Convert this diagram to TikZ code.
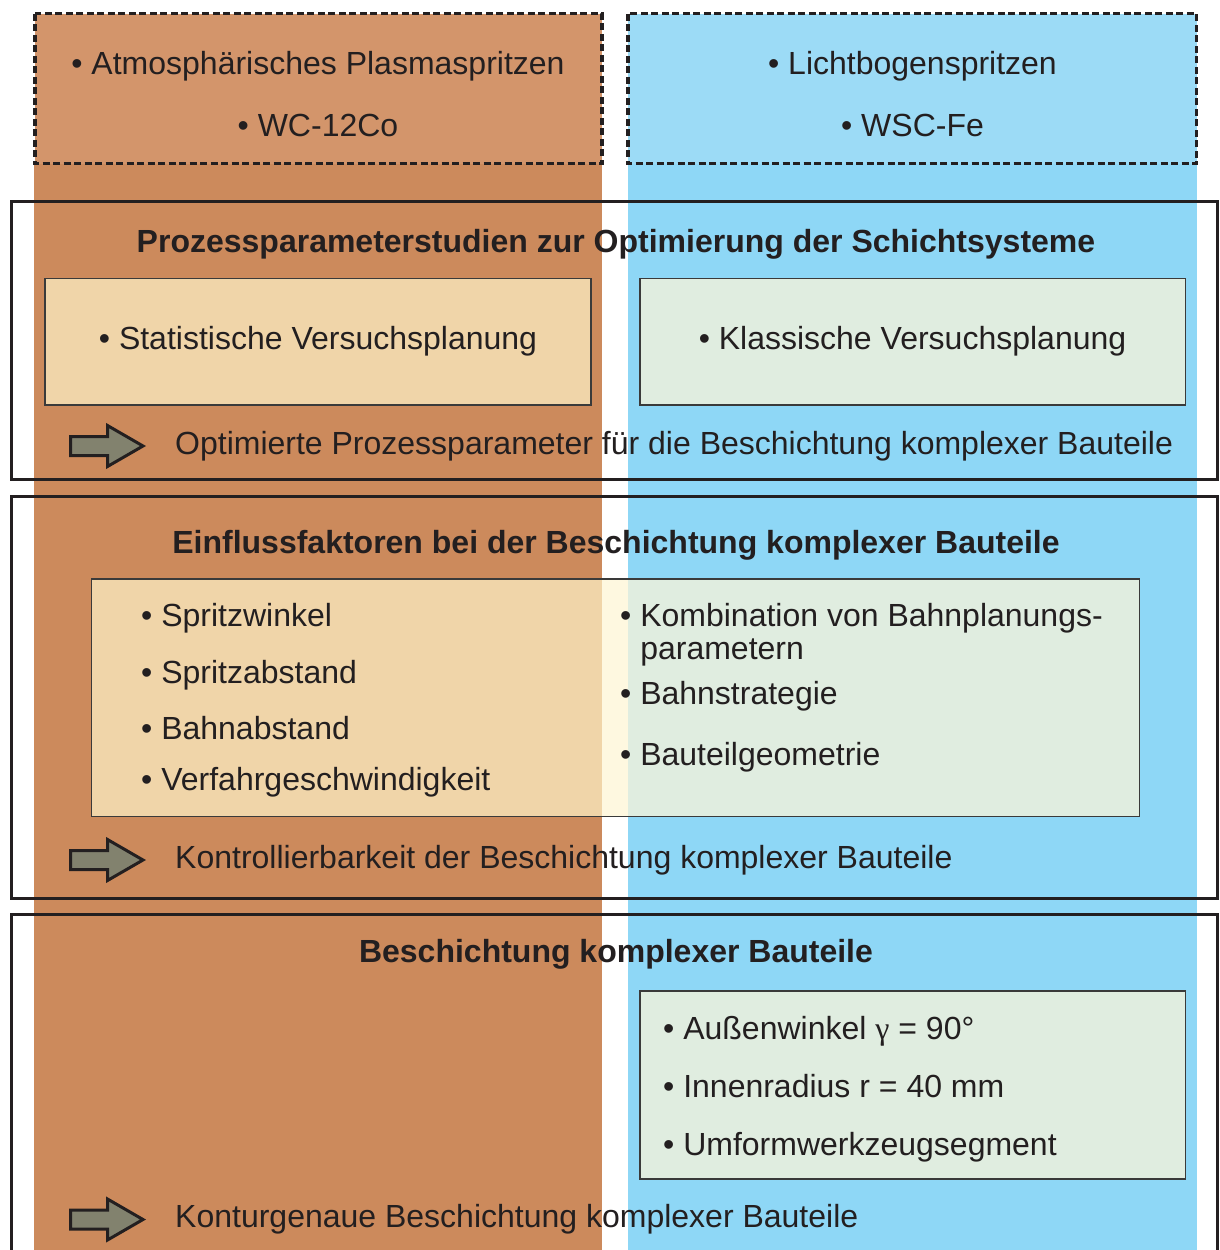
\documentclass[tikz,border=0pt]{standalone}
\usepackage{fontspec}
\setmainfont{Liberation Sans}
\newfontfamily\greekserif{Liberation Serif}
\definecolor{ink}{HTML}{231F20}
\definecolor{boxline}{HTML}{3A3A3A}
\definecolor{orangeTop}{HTML}{D3956B}
\definecolor{orangeCol}{HTML}{CC8A5C}
\definecolor{blueTop}{HTML}{9CDBF6}
\definecolor{blueCol}{HTML}{8ED7F6}
\definecolor{wheat}{HTML}{F0D5A9}
\definecolor{mint}{HTML}{E0EDE0}
\definecolor{cream}{HTML}{FEF8E0}
\definecolor{arrowfill}{HTML}{82826E}
\begin{document}
\begin{tikzpicture}[x=1pt,y=-1pt,
  txt/.style={inner sep=0pt, font=\fontsize{32}{33}\selectfont, text=ink},
  ttl/.style={inner sep=0pt, font=\fontsize{32}{33}\selectfont\bfseries, text=ink},
  dashbox/.style={draw=ink, line width=3.2pt, dash pattern=on 7pt off 3.5pt},
  framebox/.style={draw=ink, line width=3pt},
  inbox/.style={draw=boxline, line width=1.3pt},
  blockarrow/.style={draw=ink, line width=3pt, fill=arrowfill, line join=miter},
  barrow/.pic={\draw[blockarrow] (-37,-9.5) -- (0,-9.5) -- (0,-20.5) -- (35.5,0) -- (0,20.5) -- (0,9.5) -- (-37,9.5) -- cycle;}]
\useasboundingbox (0,0) rectangle (1219,1250);
\fill[white] (0,0) rectangle (1219,1250);
% columns
\fill[orangeCol] (34,163) rectangle (602,1250);
\fill[blueCol] (628,163) rectangle (1197,1250);
% top dashed boxes
\path[dashbox, fill=orangeTop] (35,13.5) rectangle (602,163.5);
\path[dashbox, fill=blueTop] (628,13.5) rectangle (1196.5,163.5);
\node[txt, anchor=base] (aps) at (318,74) {• Atmosphärisches Plasmaspritzen};
\node[txt, anchor=base] (wc) at (318,136) {• WC-12Co};
\node[txt, anchor=base] (lbs) at (912.5,74) {• Lichtbogenspritzen};
\node[txt, anchor=base] (wsc) at (912.5,136) {• WSC-Fe};
% frames
\draw[framebox] (11,201) rectangle (1217.5,479);
\draw[framebox] (11,496.5) rectangle (1217.5,898);
\draw[framebox] (11,1256) -- (11,914.5) -- (1217.5,914.5) -- (1217.5,1256);
% section 1
\node[ttl, anchor=base] (t1) at (616,252) {Prozessparameterstudien zur Optimierung der Schichtsysteme};
\path[inbox, fill=wheat] (45,278.5) rectangle (591,405);
\path[inbox, fill=mint] (640,278.5) rectangle (1185.5,405);
\node[txt, anchor=base] (svp) at (318,349) {• Statistische Versuchsplanung};
\node[txt, anchor=base] (kvp) at (912.5,349) {• Klassische Versuchsplanung};
\pic at (107.5,446) {barrow};
\node[txt, anchor=base west] (r1) at (175,454) {Optimierte Prozessparameter für die Beschichtung komplexer Bauteile};
% section 2
\node[ttl, anchor=base] (t2) at (616,553) {Einflussfaktoren bei der Beschichtung komplexer Bauteile};
\fill[wheat] (91.5,579) rectangle (602,816.5);
\fill[cream] (602,579) rectangle (628,816.5);
\fill[mint] (628,579) rectangle (1139.5,816.5);
\draw[inbox] (91.5,579) rectangle (1139.5,816.5);
\node[txt, anchor=base west] (sw) at (141,626) {• Spritzwinkel};
\node[txt, anchor=base west] (sa) at (141,683) {• Spritzabstand};
\node[txt, anchor=base west] (ba) at (141,739) {• Bahnabstand};
\node[txt, anchor=base west] (vg) at (141,790) {• Verfahrgeschwindigkeit};
\node[txt, anchor=base west, align=left] (kb) at (620,659) {• Kombination von Bahnplanungs-\\\phantom{• }parametern};
\node[txt, anchor=base west] (bs) at (620,704) {• Bahnstrategie};
\node[txt, anchor=base west] (bg) at (620,765) {• Bauteilgeometrie};
\pic at (107.5,860) {barrow};
\node[txt, anchor=base west] (r2) at (175,868) {Kontrollierbarkeit der Beschichtung komplexer Bauteile};
% section 3
\node[ttl, anchor=base] (t3) at (616,962) {Beschichtung komplexer Bauteile};
\path[inbox, fill=mint] (640,991) rectangle (1185.5,1179);
\node[txt, anchor=base west] (aw) at (663,1039) {• Außenwinkel {\greekserif γ} = 90°};
\node[txt, anchor=base west] (ir) at (663,1097) {• Innenradius r = 40 mm};
\node[txt, anchor=base west] (uw) at (663,1155) {• Umformwerkzeugsegment};
\pic at (107.5,1219.5) {barrow};
\node[txt, anchor=base west] (r3) at (175,1227) {Konturgenaue Beschichtung komplexer Bauteile};
\end{tikzpicture}
\end{document}
